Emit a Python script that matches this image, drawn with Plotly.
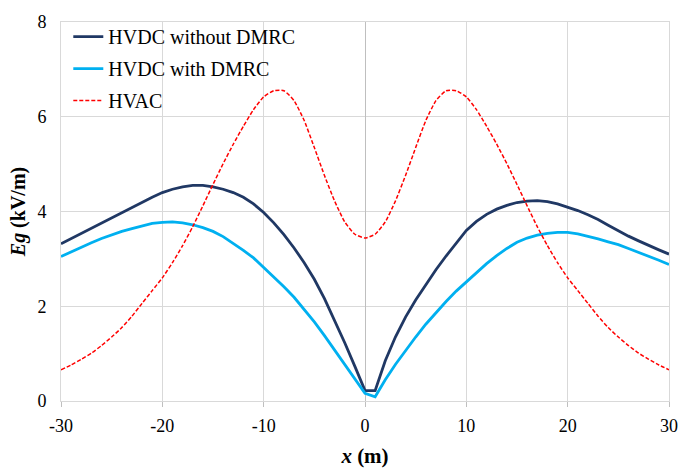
import plotly.graph_objects as go

x_vals = list(range(-30, 31))

hvdc_without = [3.32, 3.43, 3.54, 3.65, 3.76, 3.86, 3.97, 4.08, 4.19, 4.30,
                4.40, 4.47, 4.52, 4.55, 4.55, 4.52, 4.47, 4.40, 4.30, 4.16,
                3.98, 3.76, 3.51, 3.23, 2.92, 2.57, 2.16, 1.71, 1.23, 0.73,
                0.22, 0.22, 0.85, 1.35, 1.77, 2.13, 2.46, 2.77, 3.06, 3.34,
                3.60, 3.79, 3.94, 4.05, 4.13, 4.19, 4.22, 4.23, 4.21, 4.16,
                4.09, 4.02, 3.93, 3.83, 3.71, 3.59, 3.48, 3.38, 3.28, 3.19,
                3.10]

hvdc_with = [3.05, 3.15, 3.25, 3.34, 3.43, 3.51, 3.58, 3.64, 3.70, 3.75,
             3.77, 3.78, 3.76, 3.72, 3.66, 3.58, 3.47, 3.33, 3.18, 3.02,
             2.82, 2.62, 2.41, 2.19, 1.94, 1.67, 1.38, 1.08, 0.78, 0.47,
             0.16, 0.09, 0.45, 0.77, 1.07, 1.35, 1.62, 1.87, 2.10, 2.32,
             2.52, 2.72, 2.90, 3.07, 3.22, 3.35, 3.44, 3.50, 3.54, 3.56,
             3.56, 3.53, 3.48, 3.42, 3.36, 3.30, 3.22, 3.14, 3.06, 2.97,
             2.88]

hvac = [0.66, 0.76, 0.88, 1.01, 1.17, 1.35, 1.55, 1.79, 2.06, 2.33,
        2.60, 2.92, 3.28, 3.68, 4.12, 4.57, 5.01, 5.42, 5.80, 6.15,
        6.42, 6.55, 6.55, 6.34, 5.92, 5.35, 4.76, 4.22, 3.78, 3.52,
        3.44, 3.52, 3.78, 4.22, 4.76, 5.35, 5.92, 6.34, 6.55, 6.55,
        6.42, 6.15, 5.80, 5.42, 5.01, 4.57, 4.12, 3.68, 3.28, 2.92,
        2.60, 2.33, 2.06, 1.79, 1.55, 1.35, 1.17, 1.01, 0.88, 0.76,
        0.66]

names = ["HVDC without DMRC", "HVDC with DMRC", "HVAC"]
x_ticks = [-30, -20, -10, 0, 10, 20, 30]
x_tick_text = ["-30", "-20", "-10", "0", "10", "20", "30"]
y_ticks = [0, 2, 4, 6, 8]

FONT = "Liberation Serif, Times New Roman, serif"

fig = go.Figure()
fig.add_trace(go.Scatter(x=x_vals, y=hvdc_without, mode="lines", name=names[0],
                         legendgroup="a",
                         line=dict(color="#203864", width=2.8)))
fig.add_trace(go.Scatter(x=x_vals, y=hvdc_with, mode="lines", name=names[1],
                         legendgroup="b",
                         line=dict(color="#00B0F0", width=2.8)))
fig.add_trace(go.Scatter(x=x_vals, y=hvac, mode="lines", name=names[2],
                         legendgroup="c",
                         line=dict(color="#FF0000", width=1.5, dash="4px,2px",
                                   shape="spline", smoothing=0.5)))

fig.update_layout(
    width=680, height=468,
    margin=dict(l=61, r=11, t=22, b=67),
    paper_bgcolor="white", plot_bgcolor="white",
    font=dict(family=FONT, size=18, color="black"),
    hovermode=False,
    showlegend=True,
    legend=dict(x=0.012, y=1.013, xanchor="left", yanchor="top",
                bgcolor="rgba(255,255,255,0)",
                font=dict(family=FONT, size=20, color="black"),
                tracegroupgap=3, traceorder="grouped",
                itemwidth=30),
)
fig.update_xaxes(range=[-30, 30], tickvals=x_ticks, ticktext=x_tick_text,
                 automargin=False,
                 showgrid=True, gridcolor="#d9d9d9", gridwidth=1,
                 zeroline=True, zerolinecolor="#bfbfbf", zerolinewidth=1,
                 showline=True, linecolor="#d9d9d9", linewidth=1, mirror=True,
                 ticks="outside", ticklen=5, tickcolor="#bfbfbf",
                 ticklabelstandoff=3,
                 tickfont=dict(family=FONT, size=18),
                 title=dict(text="<b><i>x</i> (m)</b>", font=dict(family=FONT, size=21),
                            standoff=14))
fig.update_yaxes(range=[0, 8], tickvals=y_ticks,
                 automargin=False,
                 showgrid=True, gridcolor="#d9d9d9", gridwidth=1,
                 zeroline=False,
                 showline=True, linecolor="#d9d9d9", linewidth=1, mirror=True,
                 ticks="", ticklabelstandoff=10,
                 tickfont=dict(family=FONT, size=18),
                 title=dict(text="<b><i>Eg</i> (kV/m)</b>", font=dict(family=FONT, size=20),
                            standoff=6))

fig.write_html("out.html", config={"displayModeBar": False},
               post_script="document.body.style.margin='0';")
